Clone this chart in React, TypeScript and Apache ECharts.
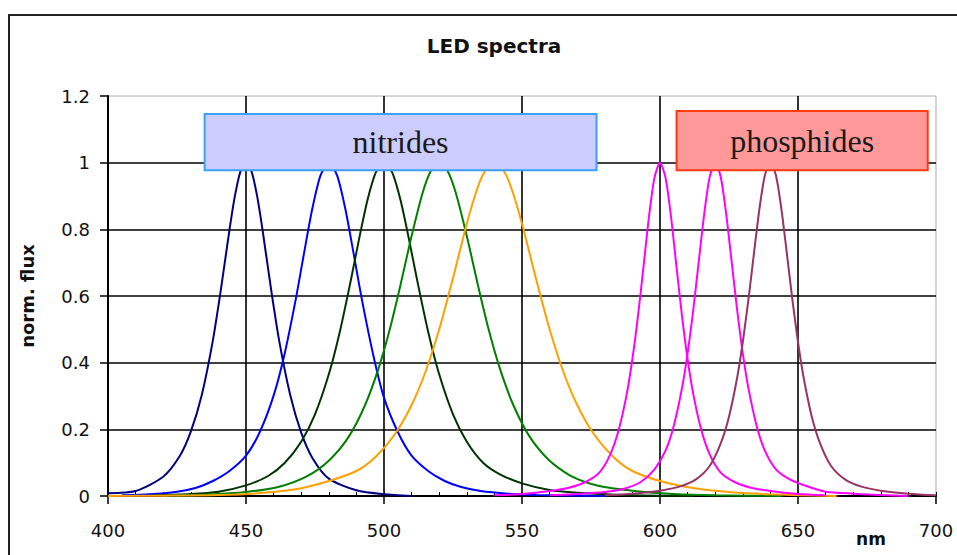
import React, { useEffect, useRef } from "react";
import * as echarts from "echarts";

const chartTitle = "LED spectra";
const yAxisName = "norm. flux";
const xAxisUnit = "nm";

const xMin = 400;
const xMax = 700;
const xStep = 50;
const yMin = 0;
const yMax = 1.2;
const yStep = 0.2;

// [wavelength nm, normalised flux]
const navy450 = [
  [400, 0.008], [410, 0.015], [420, 0.058], [426, 0.12], [430, 0.193], [434, 0.304], [438, 0.467],
  [441, 0.625], [444, 0.798], [446, 0.901], [448, 0.974], [450, 1], [452, 0.974], [454, 0.901],
  [456, 0.798], [459, 0.625], [462, 0.467], [466, 0.304], [470, 0.19], [474, 0.115], [480, 0.052],
  [490, 0.017], [500, 0.005], [510, 0],
];
const blue480 = [
  [405, 0.002], [415, 0.005], [425, 0.013], [432, 0.025], [438, 0.045], [444, 0.075], [450, 0.121],
  [455, 0.192], [460, 0.301], [464, 0.427], [468, 0.589], [471, 0.727], [474, 0.861], [477, 0.962],
  [480, 1], [483, 0.962], [486, 0.861], [489, 0.727], [492, 0.589], [496, 0.427], [500, 0.295],
  [505, 0.192], [510, 0.121], [516, 0.075], [522, 0.045], [528, 0.027], [535, 0.015], [545, 0.007],
  [555, 0.003], [580, 0],
];
const darkGreen500 = [
  [416, 0.002], [430, 0.006], [440, 0.013], [450, 0.032], [458, 0.06], [464, 0.099], [470, 0.163],
  [475, 0.245], [480, 0.365], [484, 0.493], [488, 0.648], [491, 0.772], [494, 0.887], [497, 0.97],
  [500, 1], [503, 0.97], [506, 0.887], [509, 0.772], [512, 0.648], [516, 0.493], [520, 0.365],
  [525, 0.245], [530, 0.163], [536, 0.099], [542, 0.065], [550, 0.038], [560, 0.018], [570, 0.01],
  [584, 0.004], [600, 0.001], [612, 0],
];
const green520 = [
  [420, 0.001], [435, 0.004], [450, 0.012], [462, 0.028], [472, 0.059], [480, 0.106], [487, 0.175],
  [493, 0.27], [498, 0.382], [502, 0.497], [506, 0.634], [510, 0.78], [514, 0.91], [517, 0.976],
  [520, 1], [523, 0.976], [526, 0.91], [530, 0.78], [534, 0.634], [538, 0.497], [542, 0.382],
  [547, 0.27], [553, 0.175], [560, 0.106], [568, 0.059], [578, 0.03], [590, 0.016], [605, 0.006],
  [620, 0.002], [644, 0],
];
const orange540 = [
  [400, 0], [420, 0.001], [440, 0.003], [454, 0.008], [468, 0.02], [480, 0.045], [490, 0.075],
  [497, 0.118], [504, 0.186], [510, 0.273], [515, 0.372], [520, 0.5], [525, 0.654], [530, 0.817],
  [534, 0.927], [537, 0.981], [540, 1], [543, 0.981], [546, 0.927], [550, 0.817], [555, 0.654],
  [560, 0.5], [565, 0.372], [570, 0.273], [576, 0.186], [583, 0.118], [590, 0.075], [600, 0.045],
  [612, 0.024], [626, 0.011], [640, 0.005], [664, 0],
];
const magenta600 = [
  [540, 0.002], [550, 0.006], [560, 0.015], [567, 0.025], [573, 0.042], [578, 0.07], [582, 0.125],
  [585, 0.197], [588, 0.308], [590, 0.411], [592, 0.538], [594, 0.686], [596, 0.837], [598, 0.955],
  [600, 1], [602, 0.955], [604, 0.837], [606, 0.686], [608, 0.538], [610, 0.411], [612, 0.308],
  [615, 0.197], [618, 0.125], [622, 0.07], [627, 0.042], [633, 0.025], [640, 0.015], [650, 0.006],
  [660, 0.002],
];
const magenta620 = [
  [560, 0.002], [570, 0.006], [580, 0.012], [587, 0.022], [593, 0.042], [598, 0.08], [602, 0.136],
  [605, 0.211], [608, 0.325], [610, 0.428], [612, 0.555], [614, 0.7], [616, 0.845], [618, 0.957],
  [620, 1], [622, 0.957], [624, 0.845], [626, 0.7], [628, 0.555], [630, 0.428], [632, 0.325],
  [635, 0.211], [638, 0.136], [642, 0.08], [647, 0.05], [653, 0.03], [660, 0.013], [670, 0.007],
  [680, 0.003], [690, 0],
];
const plum640 = [
  [580, 0.002], [590, 0.007], [600, 0.016], [607, 0.028], [613, 0.05], [618, 0.09], [622, 0.158],
  [625, 0.238], [628, 0.357], [630, 0.462], [632, 0.587], [634, 0.725], [636, 0.86], [638, 0.962],
  [640, 1], [642, 0.962], [644, 0.86], [646, 0.725], [648, 0.587], [650, 0.462], [652, 0.357],
  [655, 0.238], [658, 0.158], [662, 0.09], [667, 0.05], [673, 0.028], [680, 0.016], [690, 0.007],
  [700, 0.002],
];

const spectra = [navy450, blue480, darkGreen500, green520, orange540, magenta600, magenta620, plum640];
const spectraNames = ["450 nm", "480 nm", "500 nm", "520 nm", "540 nm", "600 nm", "620 nm", "640 nm"];
const spectraColors = ["#000080", "#0000ff", "#003300", "#008000", "#ffa000", "#ff00ff", "#ff00ff", "#993366"];

// annotation boxes in data coordinates: [x0, y0, x1, y1]
const nitridesBox = [435, 1.146, 577, 0.977];
const phosphidesBox = [606, 1.155, 697, 0.977];
const boxLabels = ["nitrides", "phosphides"];

export default function App() {
  const ref = useRef<HTMLDivElement>(null);
  useEffect(() => {
    if (!ref.current) return;
    const chart = echarts.init(ref.current, undefined, { renderer: "svg" });
    const sans = "DejaVu Sans, Verdana, sans-serif";
    const serif = "Liberation Serif, Times New Roman, serif";
    const lineSeries = spectra.map((d, i) => ({
      type: "line",
      name: spectraNames[i],
      data: d,
      showSymbol: false,
      symbol: "none",
      smooth: 0.25,
      lineStyle: { color: spectraColors[i], width: 2 },
      itemStyle: { color: spectraColors[i] },
      z: 3,
    }));
    const boxItem = (b: number[], label: string, fill: string, border: string) => [
      {
        name: label,
        xAxis: b[0],
        yAxis: b[1],
        itemStyle: { color: fill, borderColor: border, borderWidth: 2, opacity: 1 },
      },
      { xAxis: b[2], yAxis: b[3] },
    ];
    chart.setOption({
      animation: false,
      backgroundColor: "#ffffff",
      title: {
        text: chartTitle,
        left: 489,
        textAlign: "center",
        top: 31,
        textStyle: { fontFamily: sans, fontSize: 20, fontWeight: "bold", color: "#111" },
      },
      grid: {
        left: 108,
        right: 21,
        top: 96,
        bottom: 59,
        containLabel: false,
        outerBoundsMode: "none",
        show: true,
        borderColor: "#a8a8a8",
        borderWidth: 1,
        backgroundColor: "transparent",
      },
      xAxis: [
        {
          type: "value",
          min: xMin,
          max: xMax,
          interval: xStep,
          axisLine: { show: true, onZero: false, lineStyle: { color: "#000", width: 2 } },
          axisTick: { show: true, inside: false, length: 8, lineStyle: { color: "#000", width: 1.5 } },
          axisLabel: { fontFamily: sans, fontSize: 18, color: "#111", margin: 25 },
          splitLine: { show: true, showMinLine: false, showMaxLine: false, lineStyle: { color: "#000", width: 1.6 } },
        },
        {
          type: "value",
          position: "top",
          offset: -400,
          min: xMin,
          max: xMax,
          interval: 10,
          axisLine: { show: false },
          axisTick: { show: true, inside: false, length: 4, lineStyle: { color: "#000", width: 1 } },
          axisLabel: { show: false },
          splitLine: { show: false },
        },
      ],
      yAxis: {
        type: "value",
        min: yMin,
        max: yMax,
        interval: yStep,
        name: yAxisName,
        nameLocation: "middle",
        nameGap: 72,
        nameTextStyle: { fontFamily: sans, fontSize: 18, fontWeight: "bold", color: "#111" },
        axisLine: { show: true, lineStyle: { color: "#000", width: 2 } },
        axisTick: { show: true, inside: false, length: 8, lineStyle: { color: "#000", width: 1.5 } },
        axisLabel: {
          fontFamily: sans,
          fontSize: 18,
          color: "#111",
          margin: 18,
          formatter: (v: number) => String(+v.toFixed(1)),
        },
        splitLine: { show: true, showMinLine: false, showMaxLine: false, lineStyle: { color: "#000", width: 1.6 } },
      },
      graphic: [
        {
          type: "rect",
          shape: { x: 9, y: 15, width: 1000, height: 600 },
          style: { fill: "none", stroke: "#222", lineWidth: 2 },
          silent: true,
        },
        {
          type: "text",
          x: 871,
          y: 539,
          style: {
            text: xAxisUnit,
            fontFamily: sans,
            fontSize: 17,
            fontWeight: "bold",
            fill: "#111",
            textAlign: "center",
            textVerticalAlign: "middle",
          },
        },
      ],
      series: [
        ...lineSeries,
        {
          type: "line",
          name: "boxes",
          data: [],
          z: 10,
          silent: true,
          markArea: {
            silent: true,
            z: 10,
            label: {
              show: true,
              position: "inside",
              fontFamily: serif,
              fontSize: 32,
              color: "#1a1a1a",
            },
            data: [
              boxItem(nitridesBox, boxLabels[0], "#ccccff", "#3aa0ff"),
              boxItem(phosphidesBox, boxLabels[1], "#ff9999", "#ff3a10"),
            ],
          },
        },
      ],
    });
    return () => chart.dispose();
  }, []);
  return (
    <div
      ref={ref}
      style={{ position: "fixed", left: 0, top: 0, width: 957, height: 555, background: "#fff" }}
    />
  );
}
